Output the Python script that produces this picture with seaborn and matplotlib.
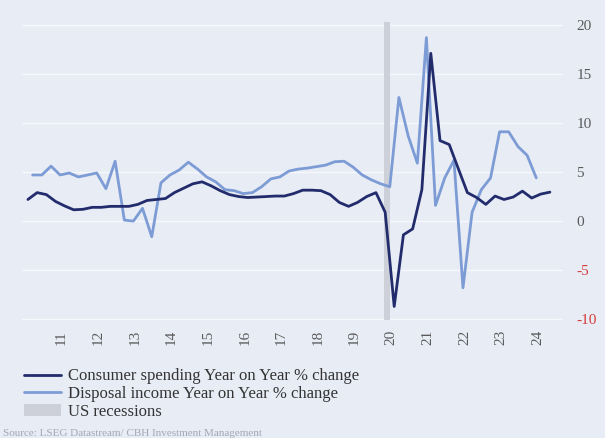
import numpy as np
import pandas as pd
import matplotlib
matplotlib.use("Agg")
import matplotlib.pyplot as plt
import seaborn as sns
from matplotlib.lines import Line2D
from matplotlib.patches import Patch


# ==================================
# DATA
# ==================================

# consumer spending, quarterly, plotted mid-quarter (May 2010 .. Aug 2024)
spending_dates = pd.date_range("2010-05-01", periods=58, freq="3MS") + pd.Timedelta(days=14)
spending_yoy = [
    2.2, 2.9, 2.7, 2.0, 1.55, 1.15, 1.2, 1.4, 1.4, 1.5,
    1.5, 1.5, 1.7, 2.1, 2.2, 2.3, 2.9, 3.35, 3.8, 4.0,
    3.6, 3.1, 2.7, 2.5, 2.4, 2.45, 2.5, 2.55, 2.55, 2.8,
    3.15, 3.15, 3.1, 2.7, 1.9, 1.5, 1.9, 2.5, 2.9, 0.9,
    -8.7, -1.4, -0.8, 3.2, 17.1, 8.2, 7.8, 5.3, 2.9, 2.4,
    1.7, 2.55, 2.2, 2.45, 3.05, 2.35, 2.75, 2.95,
]

# disposable income, quarterly, plotted at quarter start (Q3 2010 .. Q2 2024)
income_dates = pd.date_range("2010-07-01", periods=56, freq="QS")
income_yoy = [
    4.7, 4.7, 5.6, 4.7, 4.9, 4.5, 4.7, 4.9, 3.3, 6.1,
    0.1, 0.0, 1.3, -1.6, 3.9, 4.7, 5.2, 6.0, 5.3, 4.5,
    4.0, 3.2, 3.1, 2.8, 2.9, 3.5, 4.3, 4.5, 5.1, 5.3,
    5.4, 5.55, 5.7, 6.05, 6.1, 5.5, 4.7, 4.2, 3.8, 3.5,
    12.6, 8.7, 5.9, 18.7, 1.6, 4.4, 6.2, -6.8, 0.9, 3.2,
    4.4, 9.1, 9.1, 7.6, 6.7, 4.4,
]

recession_start = pd.Timestamp("2020-02-01")
recession_end = pd.Timestamp("2020-04-01")

year_labels = ["11", "12", "13", "14", "15", "16", "17", "18", "19", "20", "21", "22", "23", "24"]
y_ticks = [-10, -5, 0, 5, 10, 15, 20]

labels = [
    "Consumer spending Year on Year % change",
    "Disposal income Year on Year % change",
    "US recessions",
]

# ==================================
# STYLE
# ==================================

BG = "#e8ecf5"
DARK = "#222c6c"
LIGHT = "#7d9cd5"
GREY = "#cdd0d8"

sns.set_style("white", {"axes.facecolor": BG, "figure.facecolor": BG})
plt.rcParams["font.family"] = ["Liberation Serif", "DejaVu Serif"]

fig = plt.figure(figsize=(6.05, 4.38), dpi=100, facecolor=BG)
ax = fig.add_axes([0.036, 0.269, 0.894, 0.681])

ax.axvspan(recession_start, recession_end, color=GREY, zorder=1, lw=0)

sns.lineplot(x=income_dates, y=income_yoy, color=LIGHT, linewidth=2.0,
             ax=ax, legend=False, zorder=3)
sns.lineplot(x=spending_dates, y=spending_yoy, color=DARK, linewidth=2.0,
             ax=ax, legend=False, zorder=4)

# ==================================
# AXES
# ==================================

ax.set_ylim(-10.1, 20.3)
ax.set_xlim(pd.Timestamp("2010-03-15"), pd.Timestamp("2024-12-20"))

ax.yaxis.tick_right()
ax.set_yticks(y_ticks)
ax.set_yticklabels([str(v) for v in y_ticks], fontsize=11)
for lab, v in zip(ax.get_yticklabels(), y_ticks):
    lab.set_color("#d63c3c" if v < 0 else "#5a5a5a")

tick_dates = [pd.Timestamp(f"20{y}-04-15") for y in year_labels]
ax.set_xticks(tick_dates)
ax.set_xticklabels(year_labels, rotation=90, fontsize=11, color="#5a5a5a")

ax.tick_params(axis="both", length=0)
ax.tick_params(axis="x", pad=7)
ax.tick_params(axis="y", pad=10)
ax.grid(axis="y", color="#f6f8fc", linewidth=1.0, zorder=0)
ax.grid(axis="x", visible=False)
ax.set_axisbelow(True)
ax.set_xlabel("")
ax.set_ylabel("")
for s in ax.spines.values():
    s.set_visible(False)

# ==================================
# LEGEND + SOURCE
# ==================================

handles = [
    Line2D([0], [0], color=DARK, lw=2.0),
    Line2D([0], [0], color=LIGHT, lw=2.0),
    Patch(facecolor=GREY, edgecolor="none"),
]
fig.legend(
    handles, labels,
    loc="upper left",
    bbox_to_anchor=(0.04, 0.159),
    frameon=False,
    fontsize=12,
    handlelength=2.2,
    handletextpad=0.45,
    labelspacing=0.1,
    borderpad=0,
    borderaxespad=0,
    labelcolor="#333333",
)

fig.text(0.005, 0.004, "Source: LSEG Datastream/ CBH Investment Management",
         fontsize=8, color="#a3a8b5")

fig.savefig("out.png", dpi=100, facecolor=BG)
